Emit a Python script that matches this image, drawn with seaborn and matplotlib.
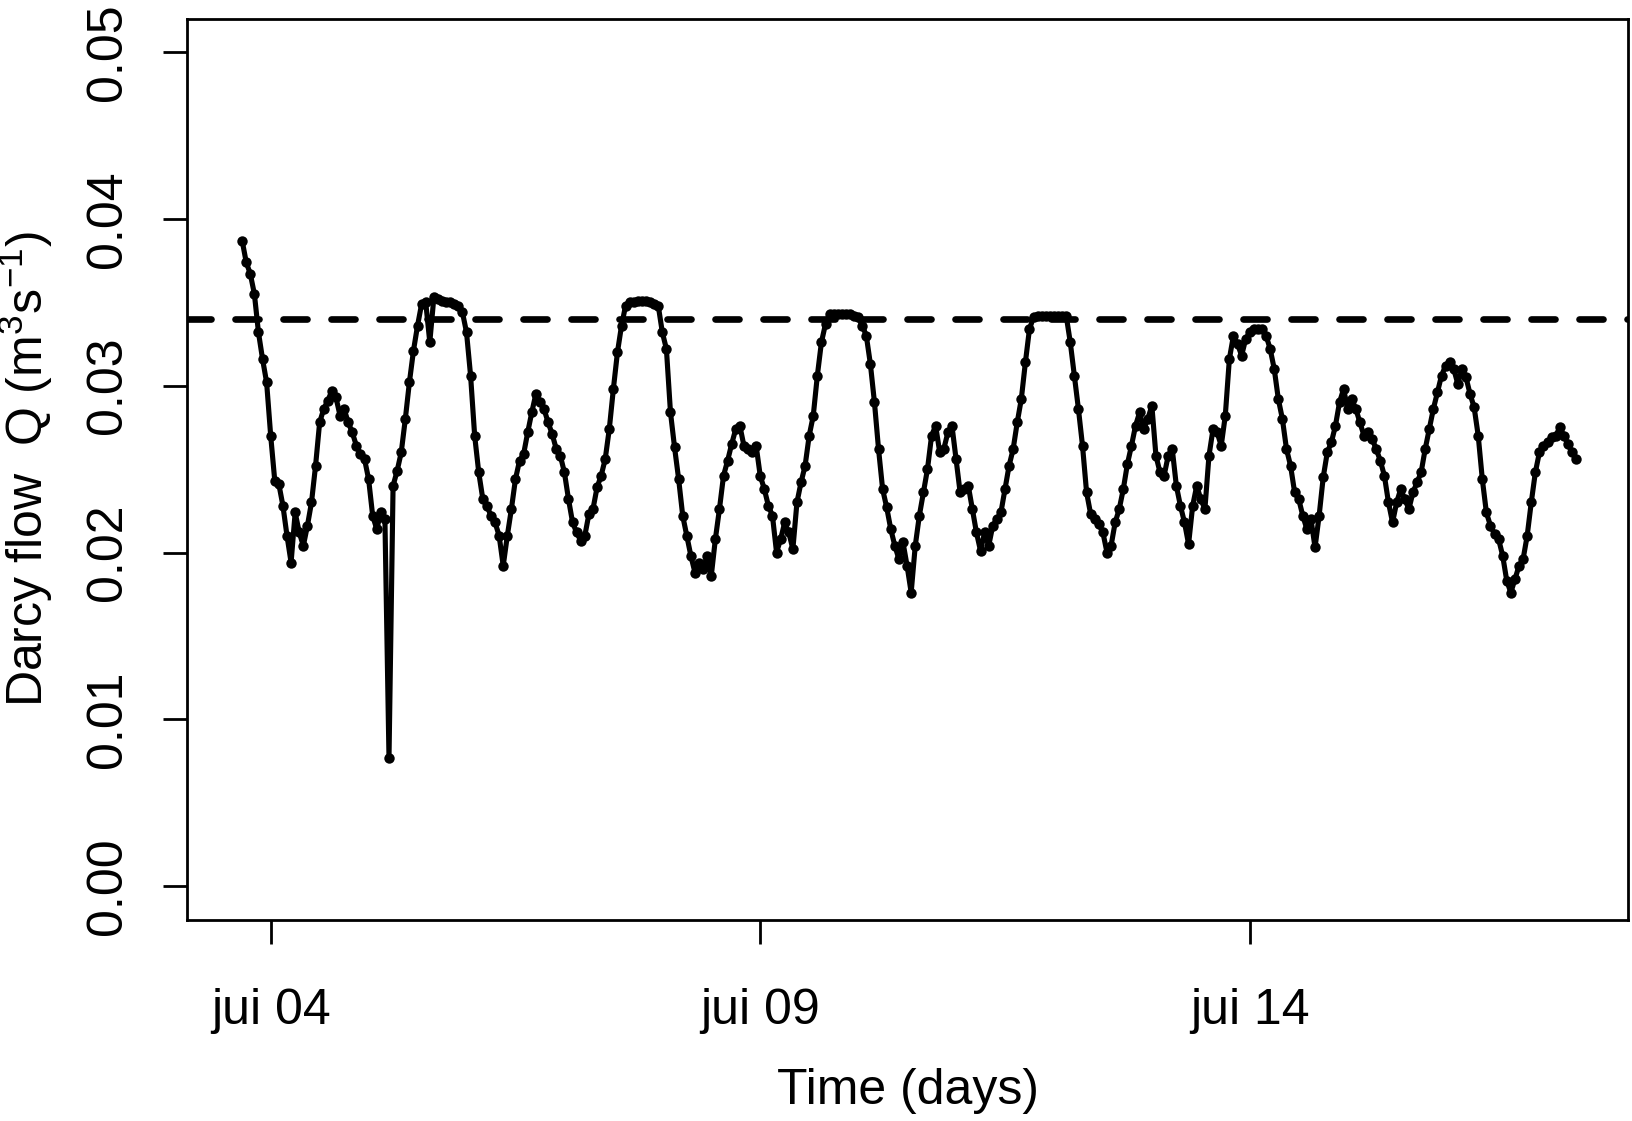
import matplotlib
matplotlib.use("Agg")
import matplotlib.pyplot as plt
import seaborn as sns
import pandas as pd

# Débit de Darcy, une valeur par heure (m3/s)
jul03 = [0.0387, 0.0374, 0.0367, 0.0355, 0.0332, 0.0316, 0.0302]  # de 17h à 23h
jul04 = [0.0270, 0.0243, 0.0241, 0.0228, 0.0210, 0.0194, 0.0224, 0.0212,
         0.0204, 0.0216, 0.0230, 0.0252, 0.0278, 0.0286, 0.0291, 0.0297,
         0.0293, 0.0282, 0.0286, 0.0278, 0.0272, 0.0264, 0.0259, 0.0256]
jul05 = [0.0244, 0.0222, 0.0214, 0.0224, 0.0220, 0.0077, 0.0240, 0.0249,
         0.0260, 0.0280, 0.0302, 0.0321, 0.0336, 0.0349, 0.0350, 0.0326,
         0.0353, 0.0352, 0.0351, 0.0350, 0.0350, 0.0349, 0.0348, 0.0344]
jul06 = [0.0332, 0.0306, 0.0270, 0.0248, 0.0232, 0.0228, 0.0222, 0.0218,
         0.0210, 0.0192, 0.0210, 0.0226, 0.0244, 0.0255, 0.0259, 0.0272,
         0.0284, 0.0295, 0.0290, 0.0286, 0.0278, 0.0271, 0.0262, 0.0258]
jul07 = [0.0248, 0.0232, 0.0218, 0.0212, 0.0207, 0.0210, 0.0223, 0.0226,
         0.0239, 0.0246, 0.0256, 0.0274, 0.0298, 0.0320, 0.0336, 0.0348,
         0.0350, 0.0350, 0.0351, 0.0351, 0.0351, 0.0350, 0.0349, 0.0348]
jul08 = [0.0332, 0.0322, 0.0284, 0.0263, 0.0244, 0.0222, 0.0210, 0.0198,
         0.0188, 0.0194, 0.0190, 0.0198, 0.0186, 0.0208, 0.0226, 0.0246,
         0.0255, 0.0265, 0.0274, 0.0276, 0.0264, 0.0262, 0.0260, 0.0264]
jul09 = [0.0246, 0.0238, 0.0228, 0.0222, 0.0200, 0.0208, 0.0218, 0.0212,
         0.0202, 0.0230, 0.0242, 0.0252, 0.0270, 0.0282, 0.0306, 0.0326,
         0.0337, 0.0343, 0.0343, 0.0343, 0.0343, 0.0343, 0.0343, 0.0342]
jul10 = [0.0341, 0.0336, 0.0330, 0.0313, 0.0290, 0.0262, 0.0238, 0.0227,
         0.0214, 0.0204, 0.0196, 0.0206, 0.0192, 0.0176, 0.0204, 0.0222,
         0.0236, 0.0250, 0.0270, 0.0276, 0.0260, 0.0262, 0.0272, 0.0276]
jul11 = [0.0256, 0.0236, 0.0238, 0.0240, 0.0226, 0.0212, 0.0201, 0.0212,
         0.0204, 0.0216, 0.0220, 0.0224, 0.0238, 0.0252, 0.0262, 0.0278,
         0.0292, 0.0314, 0.0334, 0.0341, 0.0342, 0.0342, 0.0342, 0.0342]
jul12 = [0.0342, 0.0342, 0.0342, 0.0342, 0.0326, 0.0306, 0.0286, 0.0264,
         0.0236, 0.0223, 0.0220, 0.0217, 0.0212, 0.0200, 0.0204, 0.0218,
         0.0226, 0.0238, 0.0253, 0.0264, 0.0276, 0.0284, 0.0274, 0.0280]
jul13 = [0.0288, 0.0258, 0.0248, 0.0246, 0.0258, 0.0262, 0.0240, 0.0228,
         0.0218, 0.0205, 0.0228, 0.0240, 0.0232, 0.0226, 0.0258, 0.0274,
         0.0272, 0.0264, 0.0282, 0.0316, 0.0330, 0.0325, 0.0318, 0.0328]
jul14 = [0.0332, 0.0334, 0.0334, 0.0334, 0.0330, 0.0322, 0.0310, 0.0292,
         0.0280, 0.0262, 0.0252, 0.0236, 0.0232, 0.0222, 0.0214, 0.0220,
         0.0203, 0.0222, 0.0245, 0.0260, 0.0266, 0.0276, 0.0290, 0.0298]
jul15 = [0.0286, 0.0292, 0.0286, 0.0278, 0.0270, 0.0272, 0.0268, 0.0262,
         0.0255, 0.0246, 0.0230, 0.0218, 0.0230, 0.0238, 0.0232, 0.0226,
         0.0236, 0.0242, 0.0248, 0.0262, 0.0274, 0.0286, 0.0296, 0.0306]
jul16 = [0.0312, 0.0314, 0.0310, 0.0301, 0.0310, 0.0305, 0.0295, 0.0287,
         0.0270, 0.0244, 0.0224, 0.0216, 0.0211, 0.0208, 0.0198, 0.0183,
         0.0176, 0.0184, 0.0192, 0.0196, 0.0210, 0.0230, 0.0248, 0.0260]
jul17 = [0.0264, 0.0266, 0.0269, 0.0270, 0.0275, 0.0270, 0.0265, 0.0260, 0.0256]

jours = [("2013-07-03 17:00", jul03), ("2013-07-04", jul04), ("2013-07-05", jul05),
         ("2013-07-06", jul06), ("2013-07-07", jul07), ("2013-07-08", jul08),
         ("2013-07-09", jul09), ("2013-07-10", jul10), ("2013-07-11", jul11),
         ("2013-07-12", jul12), ("2013-07-13", jul13), ("2013-07-14", jul14),
         ("2013-07-15", jul15), ("2013-07-16", jul16), ("2013-07-17", jul17)]

seuil = 0.034  # ligne horizontale en tirets

y_ticks = [0.00, 0.01, 0.02, 0.03, 0.04, 0.05]
y_tick_labels = ["0.00", "0.01", "0.02", "0.03", "0.04", "0.05"]
x_ticks = ["2013-07-04", "2013-07-09", "2013-07-14"]
x_tick_labels = ["jui 04", "jui 09", "jui 14"]

# Construction du tableau
morceaux = []
for debut, valeurs in jours:
    t = pd.date_range(debut, periods=len(valeurs), freq="h")
    morceaux.append(pd.DataFrame({"temps": t, "debit": valeurs}))
df = pd.concat(morceaux, ignore_index=True)

sns.set_theme(style="white")
plt.rcParams["font.family"] = ["Liberation Sans", "DejaVu Sans"]
plt.rcParams["mathtext.fontset"] = "custom"
plt.rcParams["mathtext.rm"] = "Liberation Sans"
plt.rcParams["mathtext.it"] = "Liberation Sans:italic"
plt.rcParams["mathtext.default"] = "regular"

fig = plt.figure(figsize=(16.33, 11.21), dpi=100)
ax = fig.add_axes([0.1148, 0.1797, 0.8821, 0.8037])

sns.lineplot(data=df, x="temps", y="debit", ax=ax, color="black",
             linewidth=3.7, marker="o", markersize=7.5, markeredgewidth=0,
             estimator=None)
ax.axhline(seuil, color="black", linewidth=4.8, linestyle=(0, (3.6, 3.6)),
           dash_capstyle="round")

t0 = pd.Timestamp("2013-07-04")
ax.set_xlim(t0 - pd.Timedelta(hours=20.4), t0 + pd.Timedelta(hours=332.7))
ax.set_ylim(-0.002, 0.052)

ax.set_xticks([pd.Timestamp(d) for d in x_ticks])
ax.set_xticklabels(x_tick_labels)
ax.set_yticks(y_ticks)
ax.set_yticklabels(y_tick_labels)

ax.tick_params(axis="both", direction="out", length=17, width=2,
               color="black", labelsize=36, labelcolor="black",
               bottom=True, left=True, top=False, right=False)
ax.tick_params(axis="x", pad=32)
ax.tick_params(axis="y", pad=24, labelrotation=90)
plt.setp(ax.get_yticklabels(), va="center")

for s in ax.spines.values():
    s.set_visible(True)
    s.set_color("black")
    s.set_linewidth(2)

ax.set_xlabel("Time (days)", fontsize=36, color="black")
ax.set_ylabel("Darcy flow  Q (m$^3$s$^{-1}$)", fontsize=36, color="black")
ax.xaxis.set_label_coords(0.5, -0.190)
ax.yaxis.set_label_coords(-0.112, 0.5)
ax.xaxis.label.set_va("center")
ax.yaxis.label.set_va("center")
ax.grid(False)

fig.savefig("out.png", dpi=100)
